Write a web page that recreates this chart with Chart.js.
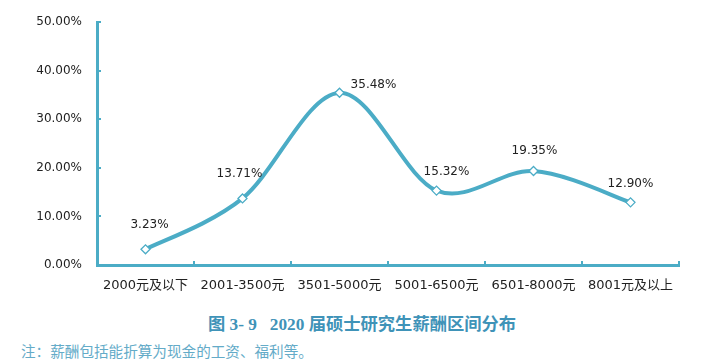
<!DOCTYPE html>
<html><head><meta charset="utf-8">
<script src="https://cdn.jsdelivr.net/npm/chart.js@4/dist/chart.umd.min.js"></script>
<style>
html,body{margin:0;padding:0;background:#fff;width:724px;height:360px;overflow:hidden;}
#wrap{position:absolute;left:0;top:0;width:724px;height:300px;}
#cap{position:absolute;left:0;width:724px;top:310px;text-align:center;font:bold 17.3px "Liberation Serif","Noto Sans CJK SC",serif;color:#3f93b8;white-space:pre;}
#note{position:absolute;left:21px;top:340px;font:14.6px "Noto Sans CJK SC",sans-serif;color:#64abc8;}
</style></head>
<body>
<div id="wrap"><canvas id="c" width="724" height="300"></canvas></div>
<div id="cap">图 3- 9   2020 届硕士研究生薪酬区间分布</div>
<div id="note">注：薪酬包括能折算为现金的工资、福利等。</div>
<script>
const categories = ['2000元及以下','2001-3500元','3501-5000元','5001-6500元','6501-8000元','8001元及以上'];
const shares = [0.0323, 0.1371, 0.3548, 0.1532, 0.1935, 0.1290];
const yTicks = [0, 0.1, 0.2, 0.3, 0.4, 0.5];

const teal = '#4bacc6';
const labelOffsets = [[4,-24],[-3,-25],[34,-8],[10,-19],[1,-20],[0,-18]];

// Excel-style smoothing: Catmull-Rom with 1/6 control-point factor
const smoothPlugin = {
  id: 'excelSmooth',
  beforeDatasetsDraw(chart) {
    const meta = chart.getDatasetMeta(0);
    const pts = meta.data;
    const k = 1/6;
    pts.forEach((p, i) => {
      const prev = pts[Math.max(i-1, 0)];
      const next = pts[Math.min(i+1, pts.length-1)];
      const dx = next.x - prev.x, dy = next.y - prev.y;
      p.cp1x = p.x - k*dx; p.cp1y = p.y - k*dy;
      p.cp2x = p.x + k*dx; p.cp2y = p.y + k*dy;
    });
    if (meta.dataset) meta.dataset._pointsUpdated = true;
  }
};

const labelPlugin = {
  id: 'pointLabels',
  afterDatasetsDraw(chart) {
    const ctx = chart.ctx;
    const meta = chart.getDatasetMeta(0);
    ctx.save();
    ctx.font = '12px "DejaVu Sans", sans-serif';
    ctx.fillStyle = '#222';
    ctx.textAlign = 'center';
    ctx.textBaseline = 'middle';
    meta.data.forEach((pt, i) => {
      const o = labelOffsets[i];
      ctx.fillText((shares[i]*100).toFixed(2) + '%', pt.x + o[0], pt.y + o[1]);
    });
    ctx.restore();
  }
};
const tickPlugin = {
  id: 'innerTicks',
  afterDraw(chart) {
    const ctx = chart.ctx;
    const xs = chart.scales.x, ys = chart.scales.y;
    const a = chart.chartArea;
    ctx.save();
    ctx.strokeStyle = teal;
    ctx.lineWidth = 2;
    ctx.beginPath();
    yTicks.forEach(v => {
      const y = Math.round(ys.getPixelForValue(v));
      ctx.moveTo(a.left, y); ctx.lineTo(a.left + 4, y);
    });
    for (let i = 0; i <= categories.length; i++) {
      const x = Math.round(xs.getPixelForValue(i - 0.5));
      ctx.moveTo(x, a.bottom); ctx.lineTo(x, a.bottom - 4);
    }
    ctx.stroke();
    ctx.restore();
  }
};

new Chart(document.getElementById('c'), {
  type: 'line',
  data: {
    labels: categories,
    datasets: [{
      data: shares,
      borderColor: teal,
      borderWidth: 4,
      tension: 0.4,
      pointStyle: 'rectRot',
      pointRadius: 4.5,
      pointBackgroundColor: '#fff',
      pointBorderColor: teal,
      pointBorderWidth: 1.3,
      clip: false
    }]
  },
  options: {
    responsive: false,
    animation: false,
    layout: { padding: { left: 0, right: 45, top: 21, bottom: 0 } },
    plugins: { legend: { display: false }, tooltip: { enabled: false } },
    scales: {
      x: {
        offset: true,
        grid: { display: false, drawTicks: false },
        border: { display: true, color: teal, width: 3 },
        ticks: { color: '#222', font: { size: 13, family: '"DejaVu Sans","Noto Sans CJK SC",sans-serif' }, padding: 13, maxRotation: 0, autoSkip: false },
        afterFit(s) { s.height = 35; }
      },
      y: {
        min: 0, max: 0.5,
        afterBuildTicks(s) { s.ticks = yTicks.map(v => ({ value: v })); },
        grid: { display: false, drawTicks: false },
        border: { display: true, color: teal, width: 3 },
        ticks: { color: '#222', font: { size: 12, family: '"DejaVu Sans",sans-serif' }, padding: 15,
          callback: v => (v*100).toFixed(2) + '%' },
        afterFit(s) { s.width = 97; }
      }
    }
  },
  plugins: [smoothPlugin, labelPlugin, tickPlugin]
});
</script>
</body></html>
